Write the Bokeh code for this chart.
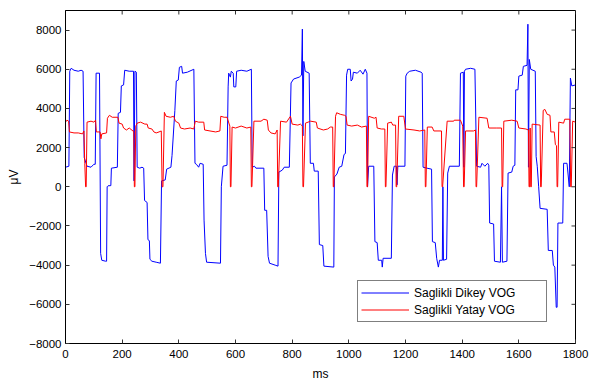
import math
from bokeh.plotting import figure
from bokeh.models import Range1d, Legend, LegendItem, FixedTicker
from bokeh.embed import file_html
from bokeh.resources import INLINE

# Saglikli Dikey VOG (blue): time in ms, amplitude in microvolts
blue_t = [0, 12, 15, 20, 30, 45, 55, 62, 66, 76, 90, 100, 105, 108, 120, 124, 128, 142, 145, 147,
          150, 160, 162, 183, 186, 194, 197, 205, 209, 225, 240, 242, 245, 250, 253, 262, 270, 276,
          279, 288, 291, 296, 298, 305, 320, 335, 339, 352, 357, 372, 376, 386, 391, 398, 402, 410,
          413, 430, 453, 457, 462, 470, 475, 486, 489, 494, 498, 547, 550, 556, 570, 574, 576, 582,
          585, 592, 594, 601, 604, 620, 640, 656, 659, 667, 672, 700, 703, 710, 715, 720, 740, 750,
          753, 765, 772, 790, 796, 805, 825, 833, 836, 838, 841, 846, 860, 864, 875, 878, 892, 896,
          908, 912, 947, 949, 958, 966, 975, 983, 988, 992, 996, 1005, 1008, 1013, 1016, 1030, 1040,
          1050, 1058, 1064, 1066, 1070, 1088, 1092, 1100, 1104, 1116, 1118, 1121, 1150, 1154, 1160,
          1168, 1170, 1173, 1198, 1201, 1206, 1215, 1235, 1255, 1259, 1262, 1276, 1292, 1295, 1305,
          1310, 1316, 1320, 1330, 1332, 1334, 1345, 1349, 1355, 1390, 1394, 1404, 1406, 1408, 1412,
          1430, 1445, 1451, 1465, 1470, 1480, 1490, 1494, 1497, 1511, 1514, 1535, 1539, 1542, 1558,
          1562, 1575, 1580, 1586, 1589, 1597, 1600, 1612, 1616, 1629, 1632, 1634, 1637, 1642, 1658,
          1661, 1665, 1670, 1675, 1700, 1704, 1718, 1722, 1727, 1732, 1735, 1738, 1755, 1758, 1770,
          1778, 1782, 1787, 1800]
blue_v = [1000, 1050, 5900, 6050, 5950, 5900, 5950, 5900, 1500, 1050, 1000, 1150, 1150, 5800, 5800,
          -3400, -3750, -3800, -3800, 0, 50, 60, 950, 1000, 3750, 3800, 5150, 5200, 5950, 5900, 5900,
          300, 5900, 5850, 1000, 950, 1000, 950, -700, -800, -2700, -2750, -3700, -3800, -3850, -3900,
          300, 350, 900, 1000, 1600, 3900, 5400, 5450, 6100, 6150, 5800, 5850, 6000, 1200, 1150, 1000,
          1200, 1150, -1700, -3400, -3850, -3900, 0, 1050, 1100, 5100, 5800, 5600, 5900, 5800, 5100,
          5100, 5900, 5950, 5900, 6000, 1000, 1050, 950, 950, -1200, -1200, -3550, -3900, -4000, -4050,
          750, 850, 1000, 1000, 5300, 5500, 5600, 5700, 8050, 2600, 6400, 5900, 5800, 1200, 1200, 800,
          800, -2950, -3000, -4050, -4100, 500, 650, 1000, 1050, 1650, 1700, 5700, 6000, 6000, 5400,
          5500, 5850, 5800, 5950, 5750, 6000, 5800, 0, 1050, 1050, -2800, -2850, -3750, -3750, -4100,
          -3650, -3650, 600, 1050, 1050, 100, 1050, 1050, 5650, 5800, 5900, 5950, 5850, 5800, 1000,
          950, 900, -2800, -2850, -3650, -4100, -3750, -3750, 0, -3750, -3700, 700, 1050, 1050, 5800,
          5850, 1000, 5900, 6000, 6050, 6000, 1050, 1000, 1200, 1050, 1200, 1100, -1850, -1900, -3800,
          -3850, 0, -3850, -3800, 700, 750, 1050, 1100, 4950, 4950, 5650, 5700, 6150, 6200, 8300, 1000,
          6500, 6000, 5900, 1550, 1050, 0, -1100, -1150, -3250, -3250, -4000, -4100, -6150, -6150,
          -1850, -1850, 1200, 1200, 0, 5550, 5150, 5200]

# Saglikli Yatay VOG (red)
red_t = [0, 5, 11, 14, 30, 45, 60, 65, 68, 71, 73, 76, 90, 100, 106, 109, 122, 125, 128, 145, 148,
         155, 165, 185, 189, 200, 205, 215, 225, 238, 241, 243, 245, 248, 253, 265, 280, 288, 292,
         305, 312, 320, 330, 338, 341, 344, 349, 355, 370, 382, 388, 400, 406, 420, 440, 453, 458,
         470, 488, 491, 510, 530, 545, 548, 560, 570, 580, 582, 584, 588, 600, 620, 640, 654, 656,
         658, 665, 690, 700, 712, 716, 725, 740, 747, 749, 751, 759, 780, 794, 800, 820, 829, 836,
         838, 840, 847, 865, 885, 889, 910, 925, 935, 943, 945, 947, 953, 957, 970, 985, 990, 994,
         1010, 1030, 1045, 1062, 1064, 1066, 1070, 1090, 1096, 1100, 1115, 1127, 1129, 1131, 1137,
         1150, 1155, 1165, 1167, 1169, 1176, 1194, 1200, 1230, 1250, 1268, 1270, 1272, 1277, 1294,
         1300, 1327, 1329, 1331, 1347, 1370, 1372, 1394, 1402, 1405, 1407, 1412, 1440, 1447, 1449,
         1451, 1459, 1488, 1494, 1520, 1539, 1541, 1543, 1547, 1575, 1594, 1600, 1625, 1634, 1636,
         1638, 1640, 1642, 1644, 1647, 1675, 1677, 1679, 1686, 1692, 1700, 1710, 1713, 1725, 1729,
         1733, 1735, 1737, 1741, 1758, 1762, 1780, 1783, 1785, 1790, 1800]
red_v = [3300, 3400, 3350, 2800, 2750, 2750, 2700, 2850, 1200, 0, 0, 3300, 3350, 3300, 3400, 2800,
         2800, 2450, 2700, 2750, 3500, 3650, 3550, 3550, 3250, 3200, 3000, 2900, 3000, 2850, 2850, 0,
         0, 3100, 3250, 3300, 3200, 3200, 3000, 2950, 2800, 2750, 2800, 2850, 0, 0, 3800, 3600, 3550,
         3600, 3350, 3250, 3000, 2950, 3000, 2950, 3350, 3300, 3300, 2900, 2850, 2800, 2850, 3600,
         3550, 3550, 3100, 0, 0, 3050, 3000, 3100, 3000, 3050, 0, 0, 3350, 3350, 3450, 3400, 2900,
         2750, 2700, 2900, 0, 0, 3350, 3300, 3600, 3200, 3150, 3200, 3100, 0, 0, 3250, 3350, 3300,
         3000, 2900, 2950, 3050, 3050, 0, 0, 3600, 3780, 3700, 3650, 3600, 3150, 3100, 3150, 3050,
         3100, 0, 0, 3600, 3500, 3550, 3000, 2950, 2950, 0, 0, 3250, 3300, 3150, 3150, 0, 0, 3600,
         3600, 2950, 2900, 2850, 2900, 0, 0, 3050, 3050, 2850, 2850, 0, 0, 3350, 3350, 3400, 3400,
         3100, 0, 0, 2850, 2850, 2900, 0, 0, 3550, 3500, 3000, 3000, 3000, 0, 0, 3350, 3400, 3350,
         3000, 2950, 2900, 0, 0, 3000, 0, 0, 3200, 3150, 0, 0, 3900, 3950, 3700, 3650, 2800, 2800,
         2150, 2100, 0, 0, 3300, 3250, 3450, 3450, 0, 0, 3350, 3300]

x_ticks = [0, 200, 400, 600, 800, 1000, 1200, 1400, 1600, 1800]
y_ticks = [-8000, -6000, -4000, -2000, 0, 2000, 4000, 6000, 8000]
x_min, x_max = 0, 1800
y_min, y_max = -8000, 9000
series_labels = ["Saglikli Dikey VOG", "Saglikli Yatay VOG"]
x_label = "ms"
y_label = "μV"

FONT = "Liberation Sans"

p = figure(width=593, height=383, output_backend="svg", toolbar_location=None,
           x_range=Range1d(x_min, x_max), y_range=Range1d(y_min, y_max),
           min_border_left=65, min_border_right=18, min_border_top=10, min_border_bottom=39,
           x_axis_label=x_label, y_axis_label=y_label)
p.xgrid.visible = False
p.ygrid.visible = False
p.outline_line_color = "black"
p.outline_line_width = 1
p.background_fill_color = "white"
p.border_fill_color = "white"

blue_r = p.line(blue_t, blue_v, line_color="#0000FF", line_width=1)
red_r = p.line(red_t, red_v, line_color="#FF0000", line_width=1)

# inward ticks on the top and right edges of the box (MATLAB style)
p.ray(x=x_ticks, y=[y_max] * len(x_ticks), length=4, length_units="screen",
      angle=-math.pi / 2, line_color="#333333", line_width=1)
p.ray(x=[x_max] * len(y_ticks), y=y_ticks, length=4, length_units="screen",
      angle=math.pi, line_color="#333333", line_width=1)

for ax, ticks in ((p.xaxis[0], x_ticks), (p.yaxis[0], y_ticks)):
    ax.ticker = FixedTicker(ticks=ticks)
    ax.major_tick_in = 4
    ax.major_tick_out = 0
    ax.minor_tick_line_color = None
    ax.axis_line_color = "black"
    ax.major_tick_line_color = "#333333"
    ax.major_label_text_font = FONT
    ax.major_label_text_font_size = "11.5px"
    ax.major_label_text_color = "black"
    ax.axis_label_text_font = FONT
    ax.axis_label_text_font_size = "12px"
    ax.axis_label_text_font_style = "normal"
    ax.axis_label_text_color = "black"

p.xaxis[0].major_label_standoff = 6
p.xaxis[0].axis_label_standoff = 6
p.yaxis[0].major_label_standoff = 4
p.yaxis[0].axis_label_standoff = 5

legend = Legend(items=[LegendItem(label=series_labels[0], renderers=[blue_r]),
                       LegendItem(label=series_labels[1], renderers=[red_r])],
                location=(292, 21), orientation="vertical")
legend.border_line_color = "black"
legend.border_line_width = 1
legend.background_fill_color = "white"
legend.background_fill_alpha = 1
legend.padding = 3
legend.spacing = 0
legend.margin = 0
legend.glyph_width = 48
legend.glyph_height = 17
legend.label_height = 17
legend.label_width = 129
legend.label_standoff = 5
legend.label_text_font = FONT
legend.label_text_font_size = "12px"
legend.label_text_color = "black"
p.add_layout(legend, "center")

open("out.html", "w").write(file_html(p, INLINE))
